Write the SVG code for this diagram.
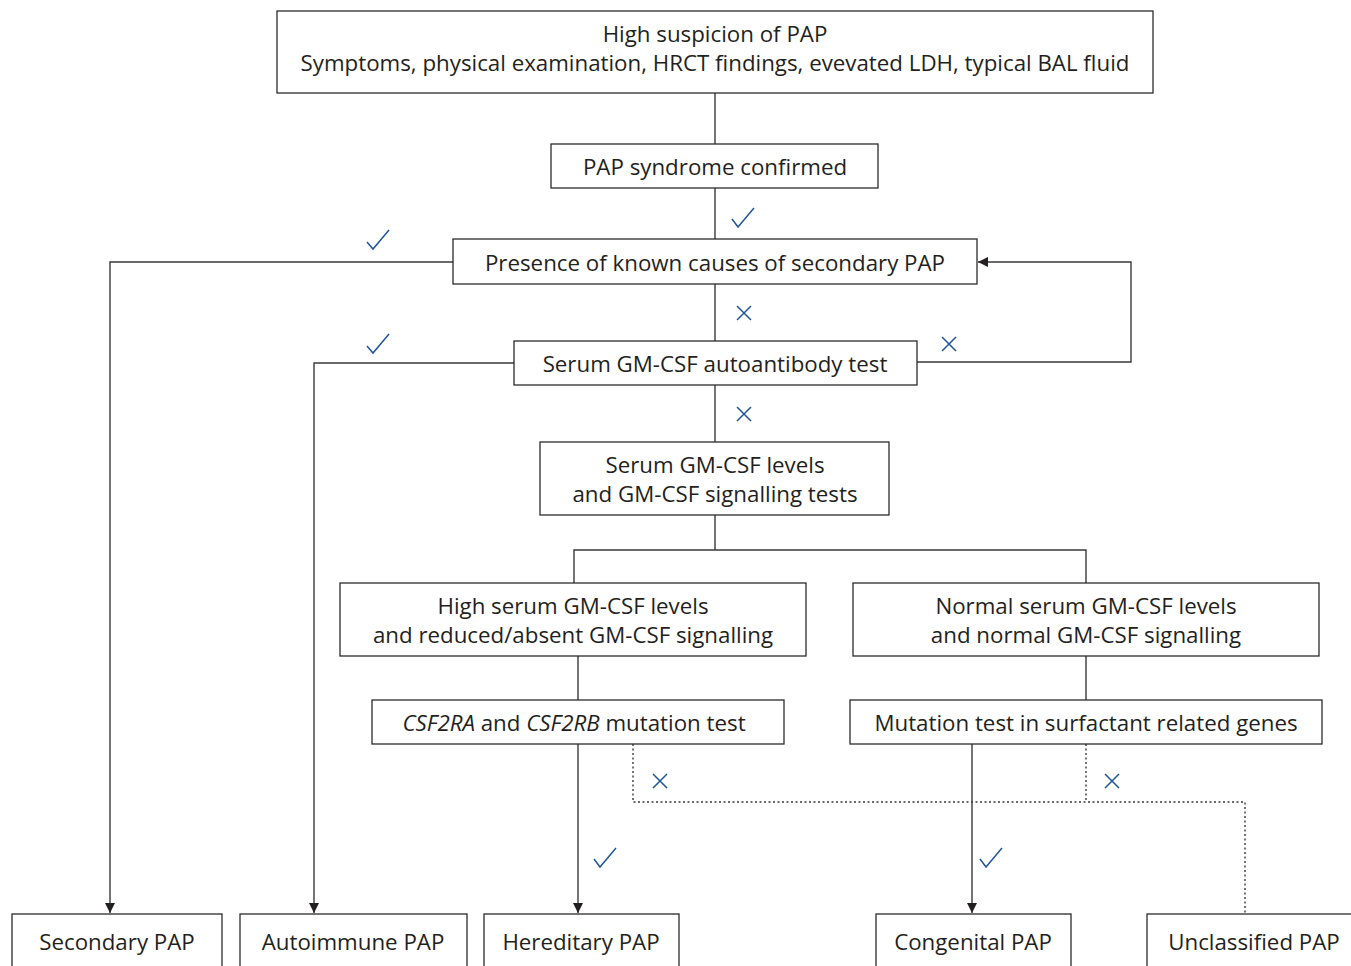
<svg xmlns="http://www.w3.org/2000/svg" width="1351" height="966" viewBox="0 0 1351 966">
<defs>
<style>
.box{fill:#fff;stroke:#2b2b2b;stroke-width:1.3}
.t{font-family:"Open Sans","Noto Sans",sans-serif;font-size:22.3px;fill:#231f20;text-anchor:middle}
.c{fill:none;stroke:#3a3a3a;stroke-width:1.4}
.d{fill:none;stroke:#3a3a3a;stroke-width:1.4;stroke-dasharray:2 2.5}
.m{fill:none;stroke:#1f559a;stroke-width:1.5}
</style>
<marker id="ah" viewBox="0 0 10 10" refX="10" refY="5" markerWidth="10" markerHeight="10" markerUnits="userSpaceOnUse" orient="auto">
<path d="M0,0 L10,5 L0,10 Z" fill="#231f20"/>
</marker>
</defs>
<rect width="1351" height="966" fill="#fff"/>
<g id="connectors">
<path class="c" d="M715,93 V144"/>
<path class="c" d="M715,188 V239"/>
<path class="c" d="M453,262 H110 V913" marker-end="url(#ah)"/>
<path class="c" d="M715,284 V341"/>
<path class="c" d="M514,363 H314 V913" marker-end="url(#ah)"/>
<path class="c" d="M917,362 H1131 V262 H978" marker-end="url(#ah)"/>
<path class="c" d="M715,385 V442"/>
<path class="c" d="M715,515 V550 M574,583 V550 H1086 V583"/>
<path class="c" d="M578,656 V700 M1086,656 V700"/>
<path class="c" d="M578,744 V913" marker-end="url(#ah)"/>
<path class="c" d="M972,744 V913" marker-end="url(#ah)"/>
<path class="d" d="M633,744 V802 H1245 V914 M1086,744 V802"/>
<path class="m" d="M732,219 L738,227 L754,208"/>
<path class="m" d="M367,242 L373,249 L389,230"/>
<path class="m" d="M367,346 L373,353 L389,334"/>
<path class="m" d="M594,859 L600,867 L616,848"/>
<path class="m" d="M980,859 L986,867 L1002,848"/>
<path class="m" d="M737,306 L751,320 M751,306 L737,320"/>
<path class="m" d="M737,407 L751,421 M751,407 L737,421"/>
<path class="m" d="M942,337 L956,351 M956,337 L942,351"/>
<path class="m" d="M653,774 L667,788 M667,774 L653,788"/>
<path class="m" d="M1105,774 L1119,788 M1119,774 L1105,788"/>
</g>
<g id="n1"><rect class="box" x="277" y="11" width="876" height="82"/>
<text class="t" x="715" y="42">High suspicion of PAP</text>
<text class="t" x="715" y="71">Symptoms, physical examination, HRCT findings, evevated LDH, typical BAL fluid</text></g>
<g id="n2"><rect class="box" x="551" y="144" width="327" height="44"/>
<text class="t" x="715" y="175">PAP syndrome confirmed</text></g>
<g id="n3"><rect class="box" x="453" y="239" width="524" height="45"/>
<text class="t" x="715" y="271">Presence of known causes of secondary PAP</text></g>
<g id="n4"><rect class="box" x="514" y="341" width="403" height="44"/>
<text class="t" x="715" y="372">Serum GM-CSF autoantibody test</text></g>
<g id="n5"><rect class="box" x="540" y="442" width="349" height="73"/>
<text class="t" x="715" y="473">Serum GM-CSF levels</text>
<text class="t" x="715" y="502">and GM-CSF signalling tests</text></g>
<g id="n6"><rect class="box" x="340" y="583" width="466" height="73"/>
<text class="t" x="573" y="614">High serum GM-CSF levels</text>
<text class="t" x="573" y="643">and reduced/absent GM-CSF signalling</text></g>
<g id="n7"><rect class="box" x="853" y="583" width="466" height="73"/>
<text class="t" x="1086" y="614">Normal serum GM-CSF levels</text>
<text class="t" x="1086" y="643">and normal GM-CSF signalling</text></g>
<g id="n8"><rect class="box" x="372" y="700" width="412" height="44"/>
<text class="t" x="574" y="731"><tspan font-style="italic">CSF2RA</tspan> and <tspan font-style="italic">CSF2RB</tspan> mutation test</text></g>
<g id="n9"><rect class="box" x="850" y="700" width="472" height="44"/>
<text class="t" x="1086" y="731">Mutation test in surfactant related genes</text></g>
<g id="n10"><rect class="box" x="12" y="914" width="210" height="60"/>
<text class="t" x="117" y="950">Secondary PAP</text></g>
<g id="n11"><rect class="box" x="240" y="914" width="227" height="60"/>
<text class="t" x="353" y="950">Autoimmune PAP</text></g>
<g id="n12"><rect class="box" x="484" y="914" width="195" height="60"/>
<text class="t" x="581" y="950">Hereditary PAP</text></g>
<g id="n13"><rect class="box" x="876" y="914" width="195" height="60"/>
<text class="t" x="973" y="950">Congenital PAP</text></g>
<g id="n14"><rect class="box" x="1147" y="914" width="214" height="60"/>
<text class="t" x="1254" y="950">Unclassified PAP</text></g>
</svg>
